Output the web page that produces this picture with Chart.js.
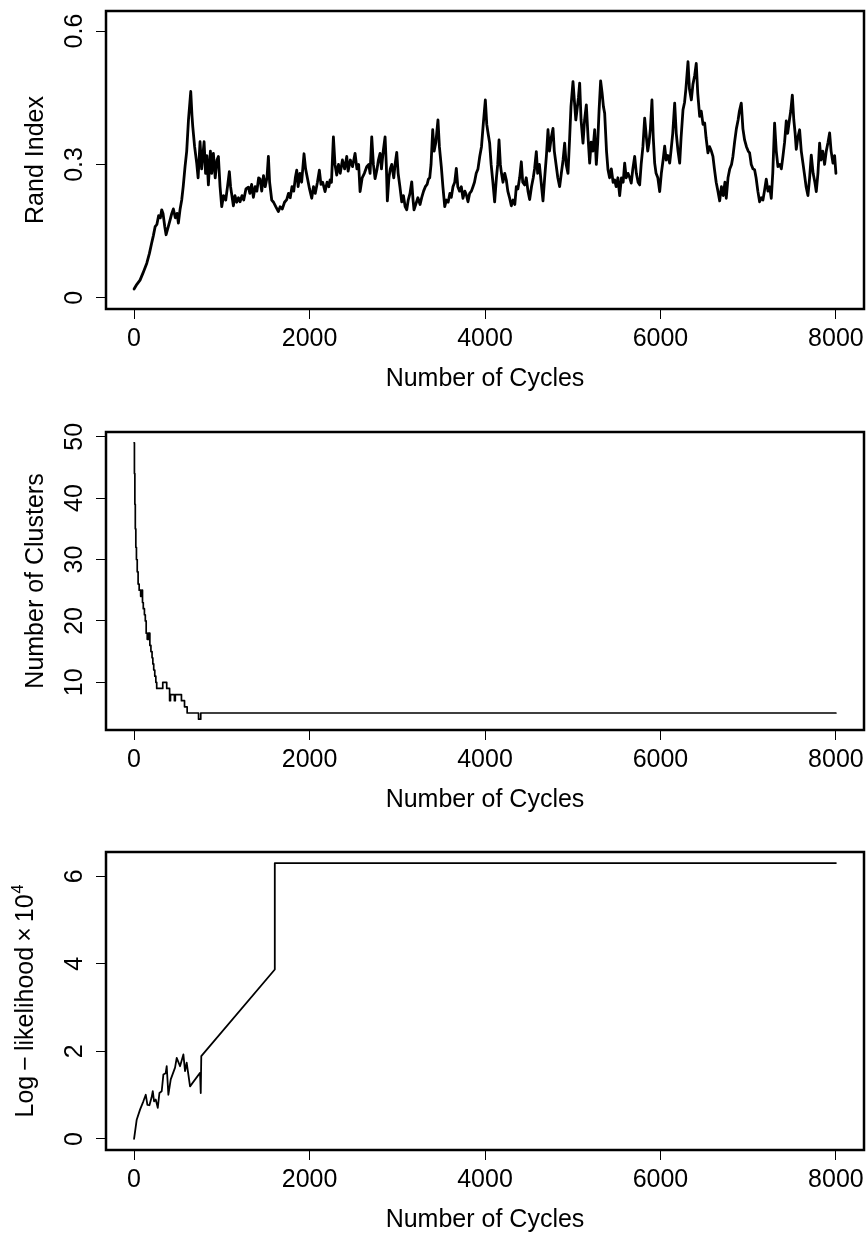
<!DOCTYPE html>
<html lang="en">
  <head>
    <meta charset="UTF-8" />
    <meta name="viewport" content="width=device-width, initial-scale=1.0" />
    <title>MCMC traces</title>
    <script src="https://cdn.jsdelivr.net/npm/chart.js"></script>
    <style>
      body {
        margin: 0;
        background: #fff;
      }
      .panel {
        position: absolute;
        left: 0;
      }
    </style>
  </head>
  <body>
    <canvas id="randChart" class="panel" width="866" height="421" style="top: 0px"></canvas>
    <canvas id="clusterChart" class="panel" width="866" height="421" style="top: 421px"></canvas>
    <canvas id="llChart" class="panel" width="866" height="393" style="top: 841px"></canvas>
    <script>
      // x axis shared by all three panels
      const xTicks = [0, 2000, 4000, 6000, 8000];

      // panel 1: Rand index trace
      const randCycles = [
        0, 30, 68, 100, 145, 175, 200, 220, 240, 260, 280, 300, 315, 330, 350, 365, 390, 410, 430, 448,
        470, 490, 505, 525, 543, 560, 581, 600, 620, 646, 660, 669, 690, 714, 730, 752, 770, 798, 815, 830,
        847, 870, 885, 904, 925, 945, 961, 980, 999, 1020, 1045, 1065, 1086, 1100, 1115, 1132, 1150, 1170, 1190, 1208,
        1230, 1250, 1275, 1303, 1320, 1340, 1360, 1380, 1400, 1420, 1436, 1455, 1475, 1495, 1515, 1531, 1545, 1569, 1590, 1615,
        1645, 1665, 1690, 1715, 1740, 1760, 1780, 1800, 1820, 1838, 1854, 1870, 1890, 1910, 1937, 1955, 1975, 2000, 2025, 2045,
        2065, 2090, 2112, 2130, 2150, 2177, 2200, 2220, 2234, 2250, 2272, 2290, 2310, 2330, 2350, 2375, 2400, 2424, 2440, 2465,
        2490, 2519, 2540, 2560, 2576, 2600, 2625, 2652, 2675, 2690, 2709, 2728, 2747, 2770, 2785, 2804, 2820, 2840, 2861, 2875,
        2887, 2905, 2920, 2937, 2960, 2975, 2994, 3010, 3030, 3051, 3070, 3090, 3108, 3125, 3145, 3165, 3180, 3191, 3210, 3235,
        3260, 3279, 3300, 3320, 3340, 3355, 3370, 3385, 3404, 3420, 3440, 3464, 3480, 3502, 3520, 3541, 3560, 3580, 3600, 3616,
        3635, 3655, 3673, 3690, 3710, 3730, 3749, 3770, 3790, 3806, 3825, 3845, 3863, 3880, 3900, 3920, 3940, 3960, 3980, 4004,
        4020, 4035, 4053, 4070, 4090, 4110, 4130, 4145, 4160, 4175, 4188, 4205, 4225, 4243, 4260, 4280, 4300, 4320, 4340, 4357,
        4375, 4395, 4414, 4430, 4452, 4470, 4490, 4509, 4530, 4550, 4565, 4585, 4600, 4620, 4640, 4661, 4680, 4700, 4718, 4735,
        4755, 4775, 4790, 4810, 4830, 4851, 4870, 4890, 4908, 4925, 4946, 4965, 4980, 5003, 5020, 5035, 5049, 5065, 5079, 5095,
        5117, 5135, 5155, 5175, 5193, 5210, 5230, 5250, 5269, 5285, 5300, 5318, 5335, 5350, 5364, 5385, 5402, 5420, 5440, 5460,
        5478, 5495, 5515, 5535, 5555, 5575, 5592, 5610, 5630, 5650, 5667, 5685, 5706, 5725, 5745, 5763, 5780, 5800, 5820, 5840,
        5855, 5869, 5885, 5903, 5918, 5934, 5950, 5970, 5991, 6010, 6030, 6048, 6065, 6085, 6105, 6120, 6140, 6162, 6180, 6200,
        6219, 6235, 6257, 6275, 6290, 6314, 6330, 6352, 6370, 6390, 6408, 6425, 6447, 6465, 6485, 6504, 6520, 6541, 6560, 6580,
        6598, 6615, 6635, 6655, 6675, 6695, 6715, 6735, 6750, 6770, 6790, 6810, 6826, 6845, 6865, 6885, 6900, 6921, 6940, 6959,
        6980, 7000, 7016, 7035, 7055, 7073, 7090, 7110, 7130, 7150, 7168, 7185, 7206, 7225, 7245, 7263, 7280, 7301, 7320, 7339,
        7360, 7378, 7396, 7415, 7434, 7450, 7470, 7485, 7503, 7520, 7535, 7548, 7565, 7586, 7605, 7624, 7640, 7660, 7681, 7700,
        7719, 7740, 7760, 7776, 7795, 7814, 7830, 7850, 7871, 7890, 7910, 7928, 7945, 7966, 7985, 8000
      ];
      const randIndex = [
        0.02, 0.03, 0.04, 0.055, 0.078, 0.1, 0.123, 0.14, 0.16, 0.165, 0.185, 0.18, 0.198, 0.19, 0.16, 0.142, 0.16, 0.175, 0.19, 0.2,
        0.18, 0.19, 0.168, 0.2, 0.22, 0.25, 0.295, 0.33, 0.4, 0.464, 0.41, 0.385, 0.34, 0.303, 0.27, 0.351, 0.29, 0.351, 0.28, 0.32,
        0.254, 0.33, 0.28, 0.325, 0.27, 0.31, 0.318, 0.25, 0.205, 0.23, 0.22, 0.25, 0.284, 0.25, 0.23, 0.207, 0.23, 0.215, 0.225, 0.216,
        0.23, 0.22, 0.245, 0.249, 0.235, 0.255, 0.226, 0.25, 0.24, 0.27, 0.267, 0.24, 0.275, 0.25, 0.27, 0.318, 0.26, 0.22, 0.215, 0.205,
        0.194, 0.205, 0.2, 0.215, 0.221, 0.235, 0.225, 0.25, 0.24, 0.27, 0.287, 0.25, 0.28, 0.26, 0.324, 0.29, 0.27, 0.245, 0.224, 0.25,
        0.235, 0.26, 0.287, 0.255, 0.26, 0.239, 0.26, 0.25, 0.265, 0.26, 0.362, 0.3, 0.276, 0.3, 0.28, 0.31, 0.29, 0.318, 0.285, 0.31,
        0.295, 0.325, 0.29, 0.3, 0.239, 0.27, 0.28, 0.295, 0.3, 0.28, 0.362, 0.3, 0.268, 0.29, 0.31, 0.325, 0.29, 0.33, 0.362, 0.3,
        0.218, 0.27, 0.29, 0.3, 0.27, 0.3, 0.327, 0.28, 0.25, 0.216, 0.23, 0.205, 0.198, 0.22, 0.235, 0.261, 0.22, 0.198, 0.21, 0.225,
        0.21, 0.226, 0.24, 0.25, 0.255, 0.267, 0.27, 0.3, 0.378, 0.33, 0.35, 0.4, 0.34, 0.295, 0.25, 0.205, 0.22, 0.215, 0.235, 0.226,
        0.25, 0.26, 0.291, 0.25, 0.24, 0.25, 0.224, 0.24, 0.23, 0.216, 0.235, 0.24, 0.25, 0.26, 0.28, 0.29, 0.318, 0.34, 0.39, 0.445,
        0.39, 0.37, 0.348, 0.3, 0.26, 0.216, 0.27, 0.3, 0.355, 0.3, 0.28, 0.26, 0.28, 0.265, 0.24, 0.225, 0.207, 0.22, 0.21, 0.25,
        0.245, 0.27, 0.306, 0.26, 0.254, 0.27, 0.24, 0.221, 0.25, 0.27, 0.29, 0.329, 0.28, 0.3, 0.26, 0.218, 0.27, 0.32, 0.378, 0.33,
        0.36, 0.381, 0.33, 0.3, 0.27, 0.25, 0.28, 0.31, 0.348, 0.3, 0.28, 0.36, 0.43, 0.486, 0.44, 0.4, 0.423, 0.45, 0.483, 0.4,
        0.348, 0.4, 0.434, 0.36, 0.303, 0.35, 0.33, 0.378, 0.3, 0.35, 0.42, 0.488, 0.46, 0.43, 0.415, 0.33, 0.288, 0.27, 0.29, 0.26,
        0.265, 0.25, 0.27, 0.23, 0.27, 0.26, 0.303, 0.27, 0.28, 0.27, 0.258, 0.29, 0.318, 0.28, 0.26, 0.254, 0.3, 0.34, 0.404, 0.36,
        0.33, 0.348, 0.38, 0.445, 0.36, 0.303, 0.28, 0.27, 0.239, 0.28, 0.31, 0.341, 0.31, 0.32, 0.303, 0.33, 0.37, 0.438, 0.37, 0.33,
        0.303, 0.36, 0.423, 0.44, 0.47, 0.531, 0.47, 0.445, 0.48, 0.5, 0.527, 0.46, 0.408, 0.42, 0.39, 0.393, 0.36, 0.326, 0.34, 0.33,
        0.318, 0.29, 0.26, 0.24, 0.218, 0.25, 0.23, 0.26, 0.224, 0.27, 0.29, 0.3, 0.318, 0.35, 0.38, 0.4, 0.42, 0.438, 0.38, 0.355,
        0.34, 0.33, 0.326, 0.3, 0.29, 0.288, 0.27, 0.24, 0.216, 0.225, 0.22, 0.24, 0.267, 0.24, 0.25, 0.224, 0.28, 0.393, 0.33, 0.295,
        0.3, 0.29, 0.318, 0.35, 0.398, 0.37, 0.4, 0.42, 0.456, 0.4, 0.37, 0.334, 0.36, 0.378, 0.33, 0.303, 0.28, 0.25, 0.23, 0.27,
        0.321, 0.28, 0.26, 0.239, 0.28, 0.348, 0.31, 0.33, 0.3, 0.33, 0.35, 0.371, 0.33, 0.303, 0.32, 0.28
      ];
      const randTicks = [0, 0.3, 0.6];

      // panel 2: number of clusters (value holds from each cycle to the next)
      const clusterCycles = [
        0, 4, 9, 14, 20, 27, 36, 46, 58, 75, 88, 96, 105, 118, 128, 138, 150, 165, 180, 192,
        205, 214, 224, 236, 248, 258, 327, 372, 405, 415, 460, 470, 540, 575, 605, 735, 760, 8000
      ];
      const clusterCounts = [
        49, 44, 39, 35, 32, 30, 28, 26, 25, 24, 25, 23, 22, 21, 20, 18, 17, 18, 16, 15,
        14, 13, 12, 11, 10, 9, 10, 9, 7, 8, 7, 8, 7, 6, 5, 4, 5, 5
      ];
      const clusterTicks = [10, 20, 30, 40, 50];

      // panel 3: log-likelihood (x 10^4)
      const llCycles = [
        0, 30, 68, 106, 133, 152, 175, 200, 213, 228, 247, 270, 289, 315, 334, 360, 372, 391, 418, 467,
        486, 524, 562, 581, 600, 619, 638, 752, 760, 766, 1604, 1604, 8000
      ];
      const llValues = [
        0, 0.44, 0.67, 0.86, 1.01, 0.78, 0.77, 0.95, 1.09, 0.86, 0.9, 0.71, 1.05, 1.09, 1.47, 1.5, 1.66, 1.01, 1.36, 1.63,
        1.85, 1.66, 1.93, 1.55, 1.74, 1.47, 1.2, 1.51, 1.05, 1.89, 3.87, 6.3, 6.3
      ];
      const llTicks = [0, 2, 4, 6];

      const FONT = "25px 'Liberation Sans', Arial, sans-serif";
      const SUP_FONT = "16px 'Liberation Sans', Arial, sans-serif";
      const BOX_H = 298;

      // R style box, tick labels and axis titles
      const rStyle = {
        id: "rStyle",
        afterDraw(chart, args, opts) {
          const { ctx, chartArea: a, scales } = chart;
          ctx.save();
          ctx.strokeStyle = "#000";
          ctx.lineWidth = 2.5;
          ctx.strokeRect(a.left, a.top, a.right - a.left, a.bottom - a.top);
          ctx.fillStyle = "#000";
          ctx.font = FONT;
          ctx.textAlign = "center";
          ctx.textBaseline = "alphabetic";
          scales.x.ticks.forEach((t) => {
            ctx.fillText(String(t.value), scales.x.getPixelForValue(t.value), a.bottom + 37);
          });
          ctx.fillText("Number of Cycles", (a.left + a.right) / 2, a.bottom + 77);
          scales.y.ticks.forEach((t) => {
            ctx.save();
            ctx.translate(82, scales.y.getPixelForValue(t.value));
            ctx.rotate(-Math.PI / 2);
            ctx.fillText(String(t.value), 0, 0);
            ctx.restore();
          });
          ctx.translate(opts.titleX, (a.top + a.bottom) / 2);
          ctx.rotate(-Math.PI / 2);
          if (opts.sup) {
            ctx.textAlign = "left";
            const w1 = ctx.measureText(opts.title).width;
            ctx.font = SUP_FONT;
            const w2 = ctx.measureText(opts.sup).width;
            const x0 = -(w1 + w2 + 1) / 2;
            ctx.font = FONT;
            ctx.fillText(opts.title, x0, 0);
            ctx.font = SUP_FONT;
            ctx.fillText(opts.sup, x0 + w1 + 1, -10);
          } else {
            ctx.fillText(opts.title, 0, 0);
          }
          ctx.restore();
        },
      };

      const makeChart = function (id, xs, ys, yMin, yMax, yTicks, lineOpts, styleOpts) {
        const canvas = document.getElementById(id);
        const h = canvas.height;
        return new Chart(canvas, {
          type: "line",
          data: {
            datasets: [
              Object.assign(
                {
                  data: xs.map((x, i) => ({ x: x, y: ys[i] })),
                  borderColor: "#000",
                  pointRadius: 0,
                  tension: 0,
                  borderJoinStyle: "round",
                  borderCapStyle: "round",
                },
                lineOpts
              ),
            ],
          },
          options: {
            responsive: false,
            animation: false,
            devicePixelRatio: 1,
            events: [],
            layout: { padding: { left: 0, top: 11, right: 2, bottom: 0 } },
            plugins: {
              legend: { display: false },
              tooltip: { enabled: false },
              rStyle: styleOpts,
            },
            scales: {
              x: {
                type: "linear",
                min: -320,
                max: 8320,
                afterBuildTicks: (s) => {
                  s.ticks = xTicks.map((v) => ({ value: v }));
                },
                afterFit: (s) => {
                  s.height = h - 11 - BOX_H;
                },
                grid: { drawOnChartArea: false, color: "#000", tickLength: 10, lineWidth: 1 },
                border: { display: false },
                ticks: { display: false },
              },
              y: {
                type: "linear",
                min: yMin,
                max: yMax,
                afterBuildTicks: (s) => {
                  s.ticks = yTicks.map((v) => ({ value: v }));
                },
                afterFit: (s) => {
                  s.width = 106;
                },
                grid: { drawOnChartArea: false, color: "#000", tickLength: 10, lineWidth: 1 },
                border: { display: false },
                ticks: { display: false },
              },
            },
          },
          plugins: [rStyle],
        });
      };

      makeChart("randChart", randCycles, randIndex, -0.025, 0.645, randTicks, { borderWidth: 2.8 }, { title: "Rand Index", titleX: 43 });
      makeChart("clusterChart", clusterCycles, clusterCounts, 2.23, 50.77, clusterTicks, { borderWidth: 1.7, stepped: true }, { title: "Number of Clusters", titleX: 43 });
      makeChart("llChart", llCycles, llValues, -0.252, 6.552, llTicks, { borderWidth: 1.8 }, { title: "Log\u2009\u2212\u2009likelihood\u2009\u00d7\u200910", sup: "4", titleX: 33 });
    </script>
  </body>
</html>
